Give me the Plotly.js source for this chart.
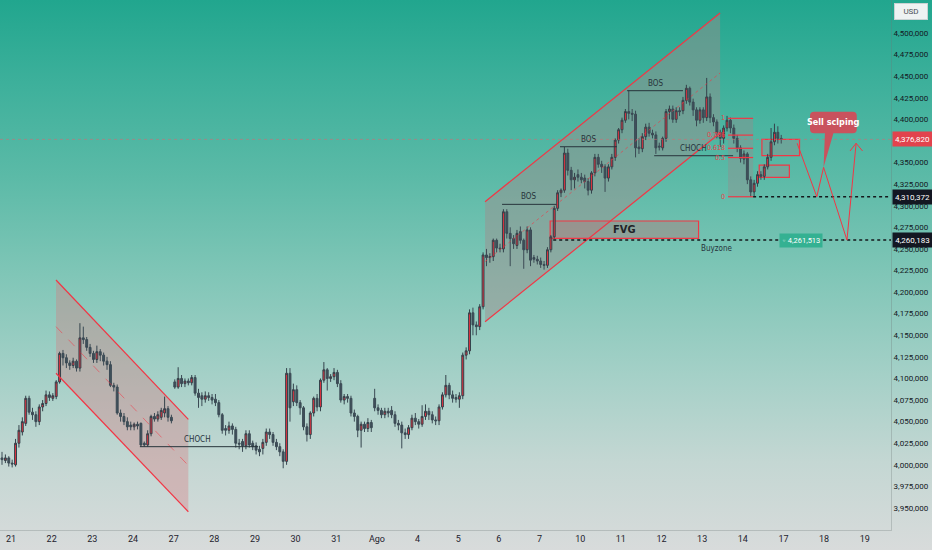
<!DOCTYPE html>
<html><head><meta charset="utf-8">
<script src="https://cdn.plot.ly/plotly-3.0.1.min.js"></script>
<style>
html,body{margin:0;padding:0;background:#d8dbdb;}
#chart{width:932px;height:550px;background:linear-gradient(to bottom,#21a68e 0%,#3db09b 15%,#5bbaa7 32%,#80c6b7 50%,#a4d0c7 68%,#c4d7d3 84%,#d8dbdb 100%);}
</style></head><body><div id="chart"></div>
<script>
// Day labels on the time axis
const dayLabels = ['21','22','23','24','27','28','29','30','31','Ago','4','5','6','7','10','11','12','13','14','17','18','19'];
// Price axis ticks (thousands)
const yTicks = [3950,3975,4000,4025,4050,4075,4100,4125,4150,4175,4200,4225,4250,4275,4300,4325,4350,4400,4425,4450,4475,4500];
// OHLC in thousands (2h candles)
const O = [4008,4005,4008,4002,4000,4025,4038,4048,4077,4061,4058,4050,4067,4071,4081,4077,4079,4096,4129,4124,4118,4115,4120,4112,4147,4145,4136,4129,4122,4131,4127,4120,4116,4092,4090,4060,4056,4050,4046,4044,4047,4048,4025,4023,4036,4056,4053,4055,4060,4065,4055,
4096,4090,4100,4094,4097,4095,4101,4083,4080,4076,4080,4078,4076,4072,4058,4042,4040,4045,4041,4025,4027,4022,4036,4025,4022,4018,4019,4026,4038,4035,4026,4021,4015,4004,4106,4073,4087,4072,4066,4044,4035,4060,4077,4067,4098,4110,4100,4102,4107,4094,4075,4079,4077,4060,4056,4040,4047,4042,4049,
4077,4066,4063,4058,4062,4063,4058,4048,4046,4037,4035,4043,4054,4050,4047,4056,4062,4058,4052,4051,4067,4081,4092,4081,4078,4076,4080,4127,4132,4176,4162,4160,4183,4243,4240,4241,4260,4251,4250,4293,4268,4262,4254,4270,4260,4249,4272,4240,4238,4236,4232,4231,4249,4264,4297,4315,4318,4361,4341,4330,
4336,4333,4332,4328,4318,4338,4356,4348,4345,4332,4345,4356,4376,4388,4399,4409,4407,4406,4368,4366,4380,4391,4384,4382,4369,4367,4378,4409,4412,4400,4410,4410,4422,4436,4420,4411,4399,4411,4402,4426,4402,4397,4385,4378,4390,4399,4390,4378,4367,4354,4360,4330,4316,4326,4336,4334,4345,4356,4374,4385,4378];
const H = [4015,4012,4010,4006,4030,4046,4055,4080,4080,4066,4062,4070,4075,4086,4085,4083,4098,4131,4133,4128,4121,4124,4122,4164,4160,4148,4140,4132,4138,4134,4130,4125,4120,4095,4093,4064,4060,4055,4050,4049,4050,4049,4027,4040,4058,4060,4062,4066,4079,4068,4058,
4099,4113,4104,4100,4100,4104,4104,4088,4084,4085,4084,4082,4082,4075,4060,4046,4050,4048,4044,4030,4030,4040,4040,4028,4026,4022,4030,4042,4042,4038,4030,4025,4018,4112,4112,4094,4092,4075,4068,4048,4062,4079,4082,4100,4119,4112,4105,4112,4110,4098,4082,4082,4080,4064,4058,4050,4050,4054,4052,
4088,4070,4066,4066,4066,4068,4062,4052,4050,4042,4046,4058,4060,4053,4069,4070,4066,4062,4056,4070,4084,4104,4095,4086,4082,4084,4130,4136,4180,4182,4166,4186,4246,4250,4245,4262,4262,4256,4296,4296,4275,4266,4272,4276,4262,4276,4275,4243,4242,4240,4236,4252,4266,4300,4318,4320,4368,4366,4345,4338,
4342,4338,4336,4332,4340,4360,4360,4352,4348,4348,4360,4378,4390,4402,4412,4433,4412,4410,4378,4384,4395,4396,4388,4386,4373,4380,4412,4416,4416,4414,4414,4426,4440,4438,4424,4414,4414,4414,4448,4430,4406,4400,4388,4393,4404,4402,4394,4382,4370,4364,4362,4334,4330,4340,4340,4348,4360,4390,4395,4392,4382];
const L = [4000,4002,3998,3997,3998,4020,4034,4045,4058,4052,4044,4046,4062,4068,4074,4074,4076,4094,4115,4112,4110,4112,4108,4108,4140,4132,4125,4118,4118,4120,4115,4110,4090,4085,4058,4050,4046,4040,4040,4040,4041,4021,4021,4021,4033,4050,4050,4052,4055,4050,4048,
4088,4088,4090,4090,4092,4092,4080,4066,4068,4072,4074,4070,4068,4055,4036,4034,4036,4035,4020,4018,4015,4018,4020,4017,4012,4010,4012,4022,4030,4022,4017,4010,3996,4000,4050,4068,4068,4058,4040,4027,4030,4056,4062,4062,4095,4086,4096,4098,4090,4072,4070,4072,4056,4050,4032,4020,4038,4038,4038,
4062,4058,4054,4054,4055,4054,4044,4040,4019,4030,4030,4040,4046,4042,4044,4052,4052,4048,4046,4046,4064,4078,4076,4072,4072,4066,4076,4122,4128,4150,4150,4156,4180,4230,4234,4236,4246,4246,4246,4262,4230,4250,4250,4256,4227,4245,4230,4234,4232,4228,4226,4228,4246,4262,4294,4310,4315,4335,4318,4320,
4328,4326,4320,4312,4314,4334,4344,4338,4316,4328,4342,4352,4372,4384,4396,4400,4398,4356,4360,4362,4376,4380,4378,4360,4364,4364,4374,4400,4396,4396,4404,4406,4418,4416,4404,4392,4395,4396,4398,4396,4392,4378,4368,4372,4386,4384,4372,4362,4350,4348,4325,4310,4310,4322,4330,4330,4342,4352,4370,4372,4372];
const C = [4006,4008,4002,4001,4025,4040,4050,4077,4061,4058,4050,4067,4071,4081,4078,4080,4096,4129,4124,4118,4115,4120,4112,4147,4145,4136,4129,4122,4131,4127,4120,4116,4092,4090,4060,4056,4050,4044,4044,4047,4045,4023,4023,4036,4056,4053,4058,4063,4065,4055,4051,
4090,4100,4094,4097,4095,4101,4083,4078,4076,4080,4078,4075,4072,4058,4040,4040,4045,4041,4025,4024,4022,4036,4023,4021,4017,4015,4026,4038,4035,4026,4021,4015,4004,4106,4066,4087,4072,4066,4044,4035,4060,4077,4067,4098,4110,4100,4102,4107,4094,4075,4079,4077,4060,4056,4040,4047,4042,4049,4043,
4066,4063,4058,4062,4060,4058,4048,4046,4037,4035,4043,4054,4050,4047,4056,4062,4058,4052,4051,4067,4081,4092,4081,4077,4076,4080,4127,4132,4176,4162,4160,4183,4243,4240,4241,4260,4251,4250,4293,4268,4262,4256,4268,4260,4249,4272,4237,4238,4236,4232,4231,4249,4264,4297,4315,4318,4361,4341,4330,4333,
4333,4330,4328,4318,4338,4356,4348,4345,4332,4345,4356,4376,4388,4399,4409,4407,4406,4367,4366,4380,4391,4384,4382,4367,4368,4378,4409,4412,4400,4410,4409,4422,4436,4420,4411,4399,4411,4402,4426,4402,4397,4385,4378,4390,4399,4390,4378,4367,4355,4360,4330,4316,4326,4336,4334,4345,4356,4374,4385,4378,4376.82];

const lastPrice = 4376.82, level0 = 4310.372, buyLevel = 4260.183, buyTarget = 4261.513;
const fibHigh = 4401.2;
const fibLevels = [1, 0.786, 0.618, 0.5, 0];

const X = [];
for (let i = 0; i < C.length; i++) X.push(i);
const xTickVals = dayLabels.map((_, k) => 2.66 + 12 * k);
const fmt = v => Math.round(v * 1000).toLocaleString('en-US');

const NARROW = '"DejaVu Sans Condensed","Liberation Sans Narrow",sans-serif';
const AXF = 'Roboto, "DejaVu Sans Condensed", sans-serif';
const RED = '#f23645';
const DARK = '#27343b';

function seg(x0, y0, x1, y1, color, width, dash) {
  return {type:'line', x0, y0, x1, y1, line:{color, width, dash: dash || 'solid'}};
}
function txt(x, y, text, opts) {
  return Object.assign({x, y, text, showarrow:false, font:{family:NARROW, size:8, color:DARK}}, opts || {});
}

const shapes = [];
// Descending channel
shapes.push({type:'path', path:'M15.94,4214 L55,4052.7 L55,3945.7 L15.94,4106 Z', fillcolor:'rgba(215,120,125,0.35)', line:{width:0}, layer:'below'});
shapes.push(seg(15.94,4214,55,4052.7,RED,1.2));
shapes.push(seg(15.94,4106,55,3945.7,RED,1.2));
shapes.push(seg(15.94,4160,55,3999.2,'rgba(242,54,69,0.55)',1,'dash'));
shapes.push(seg(40.7,4021,75.6,4021,DARK,1));
// Ascending channel
shapes.push({type:'path', path:'M142.58,4304.7 L211.96,4523.2 L211.96,4384.2 L142.58,4165.7 Z', fillcolor:'rgba(160,140,140,0.45)', line:{width:0}, layer:'below'});
shapes.push(seg(142.58,4304.7,211.96,4523.2,RED,1.2));
shapes.push(seg(142.58,4165.7,211.96,4384.2,RED,1.2));
shapes.push(seg(142.58,4235.2,211.96,4453.7,'rgba(242,54,69,0.6)',1,'dot'));
// BOS / CHOCH lines
shapes.push(seg(147.6,4301.6,163.75,4301.6,DARK,1));
shapes.push(seg(164.7,4368.3,181.5,4368.3,DARK,1));
shapes.push(seg(184.5,4433.2,201.0,4433.2,DARK,1));
shapes.push(seg(192.5,4357.9,215.8,4357.9,DARK,1));
// current price line
shapes.push({type:'line', xref:'paper', x0:0, x1:1, y0:lastPrice, y1:lastPrice, line:{color:'rgba(215,105,115,0.55)', width:1, dash:'dot'}});
// FVG
shapes.push({type:'rect', x0:161.8, x1:205.6, y0:4262.3, y1:4282.3, fillcolor:'rgba(175,125,125,0.45)', line:{color:RED, width:1.2}, layer:'below'});
// Buyzone & level lines
shapes.push({type:'line', x0:162.7, x1:263, y0:buyLevel, y1:buyLevel, line:{color:'#15191c', width:1.5, dash:'dot'}});
shapes.push({type:'line', x0:221.7, x1:263, y0:level0, y1:level0, line:{color:'#15191c', width:1.5, dash:'dot'}});
// Fib box
shapes.push({type:'rect', x0:214.3, x1:221.7, y0:level0, y1:fibHigh, fillcolor:'rgba(150,140,140,0.4)', line:{width:0}, layer:'below'});
fibLevels.forEach(f => {
  const p = level0 + f * (fibHigh - level0);
  shapes.push(seg(214.3,p,221.7,p,RED,1.2));
});
// Order blocks
shapes.push({type:'rect', x0:224.3, x1:235.4, y0:4357.9, y1:4376.9, fillcolor:'rgba(150,140,140,0.4)', line:{color:RED, width:1.2}, layer:'below'});
shapes.push({type:'rect', x0:223.5, x1:232.4, y0:4332.9, y1:4347.1, fillcolor:'rgba(150,140,140,0.4)', line:{color:RED, width:1.2}, layer:'below'});
// Zigzag projection
shapes.push({type:'path', path:'M234.7,4372.3 L240.5,4310.4 L242.5,4344.5 L249.4,4260.2 L252.1,4372.3', line:{color:RED, width:1}, fillcolor:'rgba(0,0,0,0)'});
shapes.push({type:'path', path:'M250.3,4363.4 L252.1,4372.3 L254.0,4363.4', line:{color:RED, width:1}, fillcolor:'rgba(0,0,0,0)'});
// Callout bubble
(function(){
  const x0=238.5, x1=252.3, y0=4383.9, y1=4408.9, rx=1.2, ry=4.6;
  const p = `M${x0+rx},${y1} L${x1-rx},${y1} Q${x1},${y1} ${x1},${y1-ry} L${x1},${y0+ry} Q${x1},${y0} ${x1-rx},${y0} L245.4,${y0} L242.5,4344.5 L242.9,${y0} L${x0+rx},${y0} Q${x0},${y0} ${x0},${y0+ry} L${x0},${y1-ry} Q${x0},${y1} ${x0+rx},${y1} Z`;
  shapes.push({type:'path', path:p, fillcolor:'#c9525d', line:{width:0}});
})();

const annotations = [
  txt(57.6,4021,'CHOCH',{yanchor:'bottom', yshift:1}),
  txt(155.3,4301.6,'BOS',{yanchor:'bottom', yshift:1}),
  txt(173.0,4368.3,'BOS',{yanchor:'bottom', yshift:1}),
  txt(192.8,4433.2,'BOS',{yanchor:'bottom', yshift:1}),
  txt(204.0,4357.9,'CHOCH',{yanchor:'bottom', yshift:1}),
  txt(183.6,4272.3,'<b>FVG</b>',{font:{family:NARROW, size:11, color:'#1f2326'}}),
  txt(211.1,buyLevel,'Buyzone',{yanchor:'top', yshift:-2}),
  txt(245.4,4396.4,'<b>Sell sclping</b>',{font:{family:NARROW, size:9, color:'#ffffff'}}),
  txt(235.9,buyLevel,'◦ ' + fmt(buyTarget),{bgcolor:'#34b192', font:{family:AXF, size:7.5, color:'#ffffff'}, borderpad:2})
];
fibLevels.forEach(f => {
  const p = level0 + f * (fibHigh - level0);
  annotations.push(txt(213.9, p, String(f), {xanchor:'right', font:{family:NARROW, size:7, color:'#e8404c'}}));
});
[[lastPrice,'#e2434d'],[level0,'#131722'],[buyLevel,'#131722']].forEach(([v,c]) => {
  annotations.push({xref:'paper', x:1, xanchor:'left', xshift:1, y:v, yref:'y', text:fmt(v), showarrow:false, bgcolor:c, borderpad:1.5, width:36, height:11, align:'center', font:{family:AXF, size:8, color:'#ffffff'}});
});
annotations.push({xref:'paper', yref:'paper', x:1.0226, y:0.9774, xanchor:'center', yanchor:'middle', text:'USD', showarrow:false, bgcolor:'#eef2f2', bordercolor:'#c9d3d3', borderwidth:1, borderpad:2, width:28, height:11, font:{family:AXF, size:8, color:'#4a4f55'}});

const trace = {
  type:'candlestick', x:X, open:O, high:H, low:L, close:C,
  increasing:{line:{color:'#33424b', width:1}, fillcolor:'#e8323e'},
  decreasing:{line:{color:'#3b4a54', width:1}, fillcolor:'#3f505b'},
  whiskerwidth:0, hoverinfo:'skip', showlegend:false
};

const layout = {
  width:932, height:550, margin:{l:0, r:41, t:0, b:20},
  paper_bgcolor:'rgba(0,0,0,0)', plot_bgcolor:'rgba(0,0,0,0)',
  showlegend:false, dragmode:false, boxgap:0.2,
  xaxis:{range:[-0.59,262.4], rangeslider:{visible:false}, tickvals:xTickVals, ticktext:dayLabels,
    showgrid:false, zeroline:false, showline:true, linecolor:'rgba(110,120,120,0.3)', ticks:'',
    tickfont:{family:AXF, size:9, color:'#1e222d'}, fixedrange:true},
  yaxis:{side:'right', range:[3924.53,4538.21], tickvals:yTicks, ticktext:yTicks.map(fmt),
    showgrid:false, zeroline:false, showline:true, linecolor:'rgba(110,120,120,0.3)', ticks:'',
    tickfont:{family:AXF, size:8, color:'#131722'}, fixedrange:true},
  shapes, annotations
};

Plotly.newPlot('chart', [trace], layout, {displayModeBar:false, staticPlot:true});
</script></body></html>
